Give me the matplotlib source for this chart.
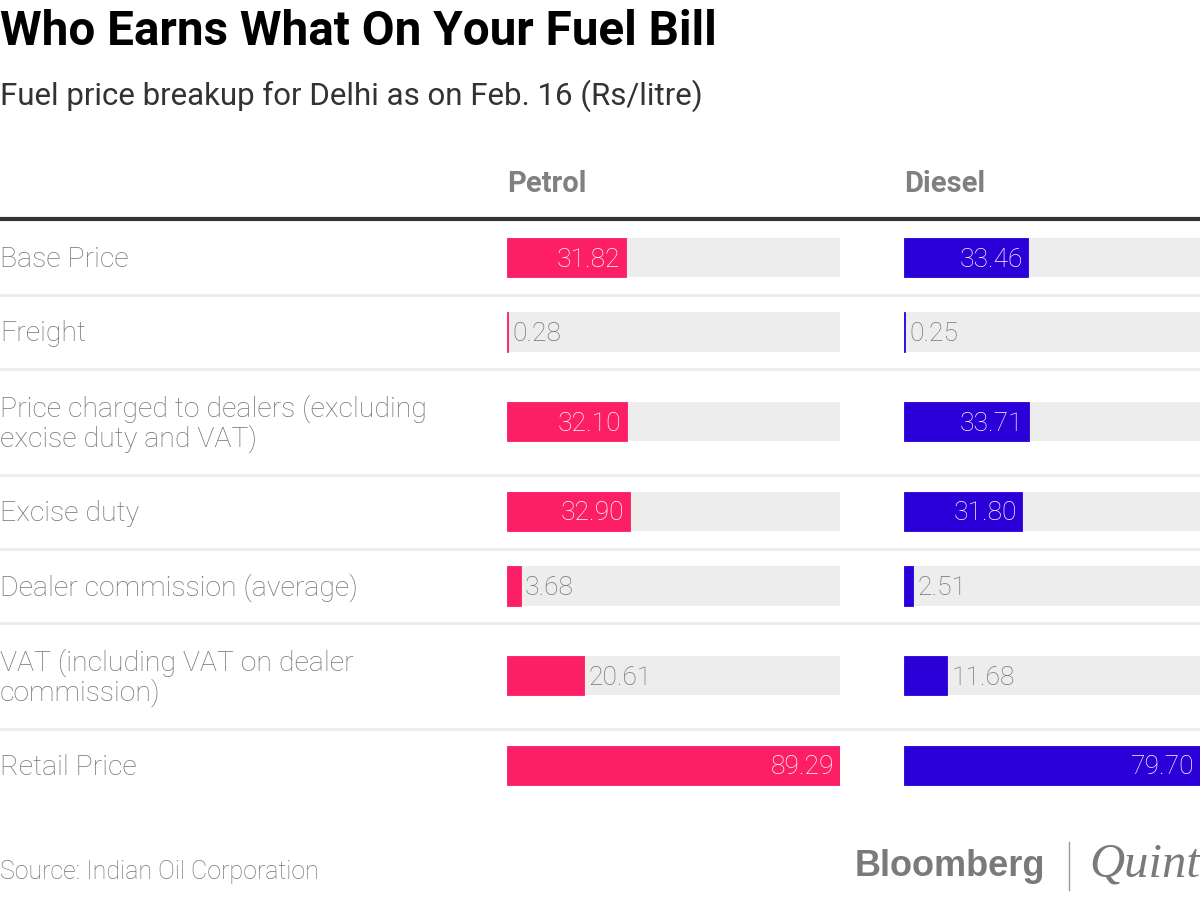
import matplotlib
matplotlib.use("Agg")
from matplotlib import pyplot as plt

# data
categories = ["Base Price", "Freight",
              "Price charged to dealers (excluding\nexcise duty and VAT)",
              "Excise duty", "Dealer commission (average)",
              "VAT (including VAT on dealer\ncommission)", "Retail Price"]
petrol = [31.82, 0.28, 32.10, 32.90, 3.68, 20.61, 89.29]
diesel = [33.46, 0.25, 33.71, 31.80, 2.51, 11.68, 79.70]
series_names = ["Petrol", "Diesel"]

PINK = "#fc1f65"
BLUE = "#2b00d8"
TRACK = "#ededed"
GREY = "#747474"
W, H = 1200, 898

plt.rcParams['font.family'] = ['Roboto', 'DejaVu Sans']

fig = plt.figure(figsize=(12, 8.98), dpi=100)
ax = fig.add_axes([0, 0, 1, 1])
ax.set_xlim(0, W)
ax.set_ylim(H, 0)
ax.axis("off")

# title block
ax.text(0, 45, "Who Earns What On Your Fuel Bill", fontsize=34.3, fontweight="bold",
        color="black", va="baseline", ha="left")
ax.text(0, 105, "Fuel price breakup for Delhi as on Feb. 16 (Rs/litre)", fontsize=22.5,
        color="#333333", va="baseline", ha="left")

# row layout (row height grows with number of label lines)
top = 220
centers, bounds = [], []
y = top
for c in categories:
    h = 74.3 + 31 * (c.count("\n"))
    centers.append(y + h / 2 + 0.4)
    y += h
    bounds.append(y + 0.7)

ax.plot([0, W], [219, 219], color="#333333", lw=3, solid_capstyle="butt")
for b in bounds[:-1]:
    ax.plot([0, W], [b, b], color="#ebebeb", lw=2)

TXT_DY = 2  # visual centring of Roboto digits/caps
for c, yc in zip(categories, centers):
    ax.text(0, yc + TXT_DY, c, fontsize=20.5, color=GREY, fontweight="light", va="center",
            ha="left", linespacing=1.08)

# bar panels
panels = [(507, 840, petrol, PINK), (904, 1200, diesel, BLUE)]
for (x0, x1, vals, col), name in zip(panels, series_names):
    pax = fig.add_axes([x0 / W, 0, (x1 - x0) / W, 1])
    vmax = max(vals)
    pax.set_xlim(0, vmax)
    pax.set_ylim(H, 0)
    pax.axis("off")
    pax.barh(centers, [vmax] * len(vals), height=39.5, color=TRACK, linewidth=0)
    pax.barh(centers, vals, height=39.5, color=col, edgecolor=col, linewidth=0.6)
    pax.text(0, 184, name, fontsize=21, fontweight="bold", color="#808080",
             va="center", ha="left")
    for v, yc in zip(vals, centers):
        if v / vmax > 0.3:
            pax.annotate(f"{v:.2f}", (v, yc + TXT_DY), xytext=(-4, 0), textcoords="offset points",
                         color="white", fontsize=19, fontweight="light",
                         va="center", ha="right")
        else:
            pax.annotate(f"{v:.2f}", (v, yc + TXT_DY), xytext=(3, 0), textcoords="offset points",
                         color=GREY, fontsize=19, fontweight="light",
                         va="center", ha="left")

# footer
ax.text(0, 872, "Source: Indian Oil Corporation", fontsize=18, color=GREY,
        fontweight="light", va="center", ha="left")
ax.text(1045, 866, "Bloomberg", fontsize=26, fontweight="bold", color="#7a7a7a",
        family=["Liberation Sans", "DejaVu Sans"], va="center", ha="right")
ax.plot([1069, 1069], [842, 890], color="#9a9a9a", lw=1)
ax.text(1200, 864, "Quint", fontsize=35, style="italic", color="#7a7a7a",
        family=["Liberation Serif", "DejaVu Serif"], va="center", ha="right")

fig.savefig("out.png", dpi=100)
